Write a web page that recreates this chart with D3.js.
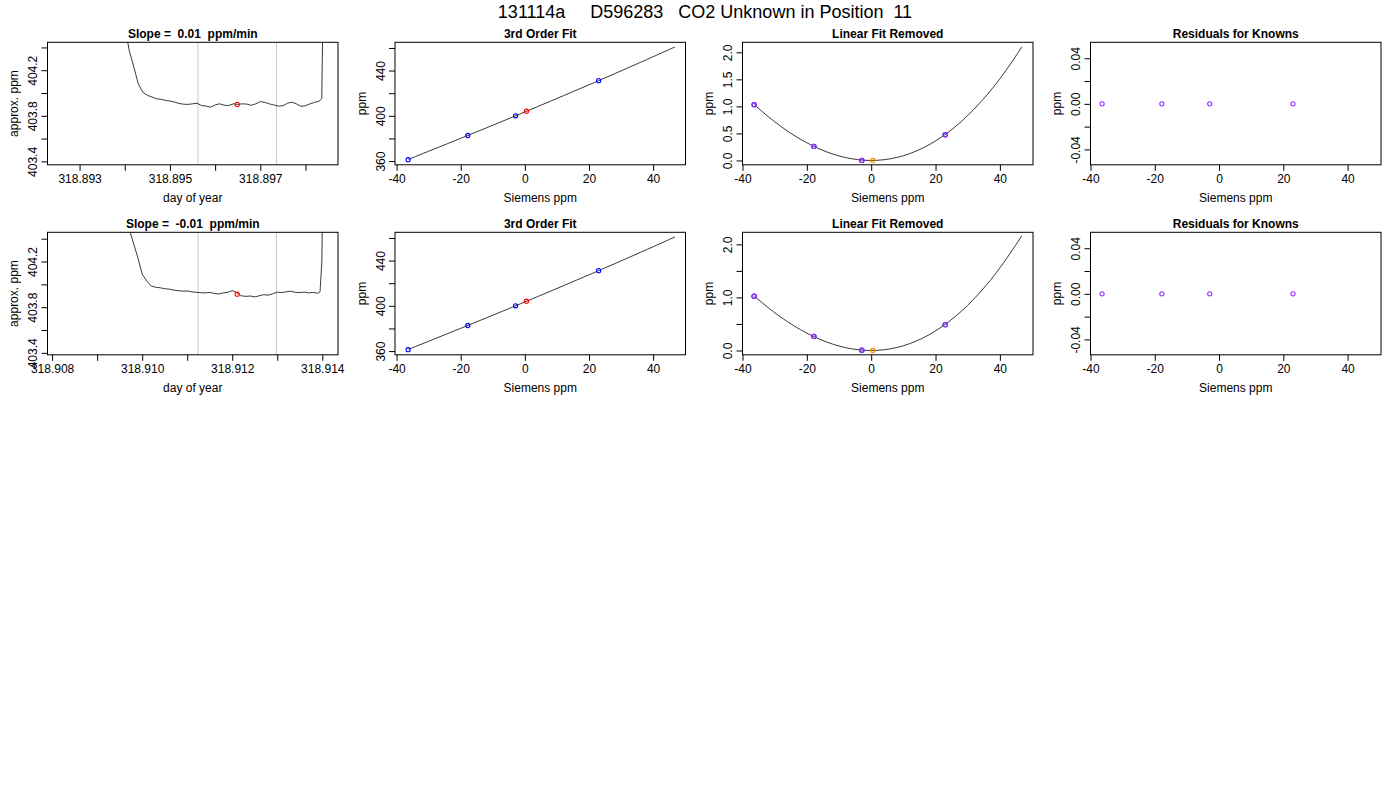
<!DOCTYPE html>
<html>
<head>
<meta charset="utf-8">
<script src="https://cdnjs.cloudflare.com/ajax/libs/d3/7.8.5/d3.min.js"></script>
<style>
  body { margin: 0; background: #fff; }
  svg text { font-family: "Liberation Sans", Arial, Helvetica, sans-serif; fill: #000; }
</style>
</head>
<body>
<svg id="chart" width="1400" height="800"></svg>
<script>
// ---- chart data ----
var mainTitle = "131114a     D596283   CO2 Unknown in Position  11";
var slopeTitles = ["Slope =  0.01  ppm/min", "Slope =  -0.01  ppm/min"];

// row 1 analyser trace
var day1 = [318.8926, 318.8930, 318.8934, 318.8937, 318.8939, 318.8940, 318.8941, 318.8942, 318.8943, 318.8944,
  318.8945, 318.8946, 318.8947, 318.8948, 318.8949, 318.8950, 318.8951, 318.8952, 318.8953, 318.8954,
  318.8955, 318.8956, 318.8957, 318.8958, 318.8959, 318.8960, 318.8961, 318.8962, 318.8963, 318.8964,
  318.8965, 318.8966, 318.8967, 318.8968, 318.8969, 318.8970, 318.8971, 318.8972, 318.8973, 318.8974,
  318.8975, 318.8976, 318.8977, 318.8978, 318.8979, 318.8980, 318.8981, 318.8982, 318.8983, 318.89836,
  318.89838, 318.8984];
var ppm1 = [410.0, 407.8, 406.2, 405.3, 404.75, 404.6, 404.37, 404.23, 404.08, 404.006,
  403.98, 403.965, 403.95, 403.945, 403.935, 403.93, 403.921, 403.908, 403.902, 403.90,
  403.905, 403.91, 403.89, 403.885, 403.876, 403.895, 403.905, 403.893, 403.89, 403.905,
  403.90, 403.905, 403.903, 403.892, 403.905, 403.925, 403.918, 403.905, 403.895, 403.885,
  403.888, 403.91, 403.92, 403.905, 403.883, 403.888, 403.905, 403.918, 403.928, 403.95,
  404.5, 406.0];

// row 2 analyser trace
var day2 = [318.9082, 318.9088, 318.9093, 318.9095, 318.9096, 318.9097, 318.9098, 318.9099, 318.9100, 318.9101,
  318.9102, 318.9103, 318.9104, 318.9105, 318.9106, 318.9107, 318.9108, 318.9109, 318.9110, 318.9111,
  318.9112, 318.9113, 318.9114, 318.9115, 318.9116, 318.9117, 318.9118, 318.9119, 318.9120, 318.9121,
  318.9122, 318.9123, 318.9124, 318.9125, 318.9126, 318.9127, 318.9128, 318.9129, 318.9130, 318.9131,
  318.9132, 318.9133, 318.9134, 318.9135, 318.9136, 318.9137, 318.9138, 318.9139, 318.91395, 318.91399,
  318.9140, 318.9141];
var ppm2 = [410.0, 407.5, 405.6, 404.9, 404.62, 404.5, 404.37, 404.24, 404.09, 404.03,
  403.985, 403.975, 403.97, 403.962, 403.958, 403.95, 403.945, 403.94, 403.942, 403.935,
  403.93, 403.928, 403.925, 403.93, 403.92, 403.916, 403.925, 403.93, 403.945, 403.928,
  403.90, 403.895, 403.898, 403.89, 403.90, 403.91, 403.905, 403.918, 403.932, 403.928,
  403.935, 403.94, 403.93, 403.928, 403.932, 403.925, 403.93, 403.922, 403.935, 404.2,
  404.5, 406.0];

var windowDays = [[318.89562, 318.89736], [318.91124, 318.91298]];
var unknownDay = [318.89649, 318.91211];
var unknownTracePpm = [403.900, 403.914];

// calibration
var siemensKnown = [-36.4, -17.8, -2.9, 23.0];
var ppmKnown = [361.2, 382.6, 400.0, 431.1];
var siemensUnknown = 0.5;
var ppmUnknown = 404.1;

var fitSiemens = [-36.3, -32, -28, -24, -20, -16, -12, -8, -4, 0, 4, 8, 12, 16, 20, 24, 28, 32, 36, 40, 44, 46.8];
var fitPpm = [361.54, 366.41, 370.96, 375.52, 380.11, 384.72, 389.36, 394.02, 398.71, 403.43, 408.17,
  412.95, 417.75, 422.58, 427.44, 432.33, 437.25, 442.21, 447.20, 452.23, 457.30, 460.86];

var curveResid = [
  [1.030, 0.810, 0.627, 0.465, 0.327, 0.211, 0.120, 0.054, 0.014, 0.0, 0.014,
   0.056, 0.127, 0.229, 0.361, 0.524, 0.720, 0.950, 1.213, 1.511, 1.845, 2.100],
  [1.023, 0.806, 0.625, 0.465, 0.327, 0.212, 0.121, 0.054, 0.014, 0.0, 0.014,
   0.057, 0.130, 0.233, 0.369, 0.537, 0.738, 0.975, 1.247, 1.556, 1.903, 2.160]
];
var knownResid = [[1.031, 0.259, 0.0, 0.476], [1.023, 0.265, 0.006, 0.487]];
var unknownResid = [0.0, 0.0];
var knownFitResid = [[0, 0, 0, 0], [0, 0, 0, 0]];

// ticks
var dayTicks = [[318.893, 318.894, 318.895, 318.896, 318.897, 318.898],
                [318.908, 318.909, 318.910, 318.911, 318.912, 318.913, 318.914]];
var dayTickLabels = [["318.893", "", "318.895", "", "318.897", ""],
                     ["318.908", "", "318.910", "", "318.912", "", "318.914"]];
var traceTicks = [403.4, 403.6, 403.8, 404.0, 404.2, 404.4];
var traceTickLabels = ["403.4", "", "403.8", "", "404.2", ""];
var siemensTicks = [-40, -20, 0, 20, 40];
var siemensTickLabels = ["-40", "-20", "0", "20", "40"];
var fitTicks = [360, 380, 400, 420, 440, 460];
var fitTickLabels = ["360", "", "400", "", "440", ""];
var residTicks = [0, 0.5, 1.0, 1.5, 2.0];
var residTickLabels = [["0.0", "0.5", "1.0", "1.5", "2.0"], ["0.0", "", "1.0", "", "2.0"]];
var knownTicks = [-0.04, -0.02, 0, 0.02, 0.04];
var knownTickLabels = ["-0.04", "", "0.00", "", "0.04"];

// ---- layout ----
var W = 290.5, H = 122.5;
var colX = [47.5, 395, 742.5, 1090.5];
var rowY = [42.3, 232.3];

var svg = d3.select("#chart");

svg.append("text")
    .attr("x", 705).attr("y", 18)
    .attr("text-anchor", "middle")
    .style("font-size", "18px")
    .style("white-space", "pre")
    .text(mainTitle);

function makePanel(col, row, cfg) {
  var g = svg.append("g").attr("transform", "translate(" + colX[col] + "," + rowY[row] + ")");
  var x = d3.scaleLinear().domain(cfg.xdom).range([0, W]);
  var y = d3.scaleLinear().domain(cfg.ydom).range([H, 0]);
  var id = "clip" + col + row;
  g.append("clipPath").attr("id", id).append("rect").attr("width", W).attr("height", H);
  var plot = g.append("g").attr("clip-path", "url(#" + id + ")");

  var xa = g.append("g").attr("transform", "translate(0," + H + ")")
      .call(d3.axisBottom(x).tickValues(cfg.xticks).tickSize(6).tickPadding(3.5)
        .tickFormat(function(d, i) { return cfg.xlabels[i]; }));
  var ya = g.append("g")
      .call(d3.axisLeft(y).tickValues(cfg.yticks).tickSize(6)
        .tickFormat(function(d, i) { return cfg.ylabels[i]; }));
  [xa, ya].forEach(function(a) {
    a.select(".domain").remove();
    a.selectAll("line").attr("stroke", "#000");
    a.selectAll("text").style("font-size", "12px").attr("fill", "#000");
  });
  ya.selectAll("text")
      .attr("x", null).attr("dy", null)
      .attr("text-anchor", "middle")
      .attr("transform", "translate(-10.5,0) rotate(-90)");

  g.append("rect").attr("width", W).attr("height", H)
      .attr("fill", "none").attr("stroke", "#000").attr("stroke-width", 1);

  g.append("text").attr("x", W / 2).attr("y", -4.5)
      .attr("text-anchor", "middle")
      .style("font-size", "12px").style("font-weight", "bold")
      .style("white-space", "pre")
      .text(cfg.title);
  g.append("text").attr("x", W / 2).attr("y", H + 37)
      .attr("text-anchor", "middle").style("font-size", "12px")
      .text(cfg.xlab);
  g.append("text").attr("transform", "translate(-29.5," + (H / 2) + ") rotate(-90)")
      .attr("text-anchor", "middle").style("font-size", "12px")
      .text(cfg.ylab);

  return { plot: plot, x: x, y: y };
}

function dots(p, xs, ys, color) {
  p.plot.selectAll(null).data(xs).enter().append("circle")
      .attr("cx", function(d) { return p.x(d); })
      .attr("cy", function(d, i) { return p.y(ys[i]); })
      .attr("r", 2.1)
      .attr("fill", "none").attr("stroke", color).attr("stroke-width", 1.1);
}

var days = [day1, day2], ppms = [ppm1, ppm2];
var dayDomains = [[318.89229, 318.89872], [318.907898, 318.914349]];
var traceDomains = [[403.37, 404.445], [403.383, 404.456]];
var residDomains = [[-0.08, 2.185], [-0.081, 2.227]];

[0, 1].forEach(function(r) {
  // trace panel
  var p1 = makePanel(0, r, {
    xdom: dayDomains[r], ydom: traceDomains[r],
    xticks: dayTicks[r], xlabels: dayTickLabels[r],
    yticks: traceTicks, ylabels: traceTickLabels,
    title: slopeTitles[r], xlab: "day of year", ylab: "approx. ppm"
  });
  windowDays[r].forEach(function(d) {
    p1.plot.append("line").attr("x1", p1.x(d)).attr("x2", p1.x(d))
        .attr("y1", 0).attr("y2", H).attr("stroke", "#c8c8c8").attr("stroke-width", 1);
  });
  var traceLine = d3.line()
      .x(function(d) { return p1.x(d); })
      .y(function(d, i) { return p1.y(ppms[r][i]); });
  p1.plot.append("path").datum(days[r]).attr("d", traceLine)
      .attr("fill", "none").attr("stroke", "#222").attr("stroke-width", 0.9);
  dots(p1, [unknownDay[r]], [unknownTracePpm[r]], "#ff0000");

  // 3rd order fit
  var p2 = makePanel(1, r, {
    xdom: [-40.5, 50.1], ydom: [356.7, 465.0],
    xticks: siemensTicks, xlabels: siemensTickLabels,
    yticks: fitTicks, ylabels: fitTickLabels,
    title: "3rd Order Fit", xlab: "Siemens ppm", ylab: "ppm"
  });
  var fitLine = d3.line().curve(d3.curveNatural)
      .x(function(d) { return p2.x(d); })
      .y(function(d, i) { return p2.y(fitPpm[i]); });
  p2.plot.append("path").datum(fitSiemens).attr("d", fitLine)
      .attr("fill", "none").attr("stroke", "#222").attr("stroke-width", 0.9);
  dots(p2, siemensKnown, ppmKnown, "#0000ff");
  dots(p2, [siemensUnknown], [ppmUnknown], "#ff0000");

  // linear fit removed
  var p3 = makePanel(2, r, {
    xdom: [-40.0, 50.3], ydom: residDomains[r],
    xticks: siemensTicks, xlabels: siemensTickLabels,
    yticks: residTicks, ylabels: residTickLabels[r],
    title: "Linear Fit Removed", xlab: "Siemens ppm", ylab: "ppm"
  });
  var residLine = d3.line().curve(d3.curveNatural)
      .x(function(d) { return p3.x(d); })
      .y(function(d, i) { return p3.y(curveResid[r][i]); });
  p3.plot.append("path").datum(fitSiemens).attr("d", residLine)
      .attr("fill", "none").attr("stroke", "#222").attr("stroke-width", 0.9);
  dots(p3, siemensKnown, knownResid[r], "#0000ff");
  dots(p3, siemensKnown, knownResid[r], "#9b30ff");
  dots(p3, [siemensUnknown], [unknownResid[r]], "#ff8c00");

  // residuals for knowns
  var p4 = makePanel(3, r, {
    xdom: [-40.0, 50.4], ydom: [-0.0535, 0.054],
    xticks: siemensTicks, xlabels: siemensTickLabels,
    yticks: knownTicks, ylabels: knownTickLabels,
    title: "Residuals for Knowns", xlab: "Siemens ppm", ylab: "ppm"
  });
  dots(p4, siemensKnown, knownFitResid[r], "#9b30ff");
});
</script>
</body>
</html>
